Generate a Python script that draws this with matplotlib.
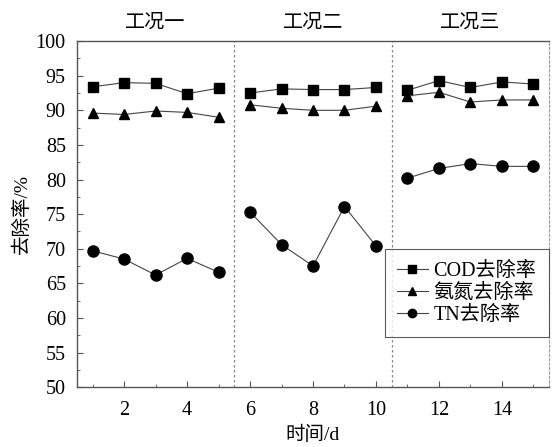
import matplotlib
matplotlib.use("Agg")
import matplotlib.pyplot as plt
from matplotlib.ticker import MultipleLocator

plt.rcParams['font.family'] = ['Liberation Serif', 'Noto Sans CJK SC']

days = list(range(1, 16))
cod = [93.4, 94.0, 93.9, 92.4, 93.2, 92.5, 93.1, 93.0, 93.0, 93.3, 92.9, 94.3, 93.3, 94.1, 93.8]
nh3 = [89.6, 89.4, 89.9, 89.7, 89.0, 90.8, 90.3, 90.0, 90.0, 90.6, 92.1, 92.6, 91.2, 91.5, 91.5]
tn = [69.7, 68.5, 66.2, 68.6, 66.6, 75.3, 70.6, 67.5, 76.1, 70.4, 80.2, 81.6, 82.3, 81.9, 81.9]
stages = ['工况一', '工况二', '工况三']
series_names = ['COD去除率', '氨氮去除率', 'TN去除率']

fig = plt.figure(figsize=(5.53, 4.47), dpi=100)
ax = fig.add_axes([0.139, 0.134, 0.854, 0.774])

groups = [(0, 5), (5, 10), (10, 15)]
markers = ['s', '^', 'o']
sizes = [7, 7, 8]
for vals, m, ms, name in zip([cod, nh3, tn], markers, sizes, series_names):
    for gi, (a, b) in enumerate(groups):
        ax.plot(days[a:b], vals[a:b], color='#444444', lw=0.8, marker=m,
                markersize=ms, markerfacecolor='black', markeredgecolor='black',
                label=name if gi == 0 else None)

for xv in [5.5, 10.5]:
    ax.axvline(xv, color='#888888', lw=0.9, ls=(0, (2, 2)))

ax.set_xlim(0.5, 15.5)
ax.set_ylim(50, 100)
ax.xaxis.set_major_locator(MultipleLocator(2))
ax.xaxis.set_minor_locator(MultipleLocator(1))
ax.yaxis.set_major_locator(MultipleLocator(5))
ax.yaxis.set_minor_locator(MultipleLocator(2.5))
ax.tick_params(which='both', direction='in', color='#555555', labelsize=14.5)
ax.tick_params(which='major', length=4)
ax.tick_params(which='minor', length=2)
ax.tick_params(axis='x', pad=10)
ax.tick_params(axis='y', pad=8)
for s in ['left', 'top', 'bottom']:
    ax.spines[s].set_color('#555555')
    ax.spines[s].set_linewidth(1.0)
ax.spines['right'].set_color('#999999')
ax.spines['right'].set_linestyle((0, (2, 2)))

for xc, st in zip([3, 8, 13], stages):
    ax.text(xc, 102.6, st, ha='center', va='center', fontsize=14.5)

ax.set_xlabel('时间/d', fontsize=14, va='center')
ax.xaxis.set_label_coords(0.5, -0.139)
ax.set_ylabel('去除率/%', fontsize=14, va='center')
ax.yaxis.set_label_coords(-0.117, 0.5)

leg = ax.legend(loc='upper left', bbox_to_anchor=(0.653, 0.398), fontsize=14.5,
                frameon=True, fancybox=False, handlelength=1.5,
                borderpad=0.6, labelspacing=0.15, handletextpad=0.3,
                borderaxespad=0)
leg.get_frame().set_edgecolor('#333333')
leg.get_frame().set_linewidth(0.8)
for h in leg.legend_handles:
    h.set_markersize(6)

fig.savefig('out.png', dpi=100)
